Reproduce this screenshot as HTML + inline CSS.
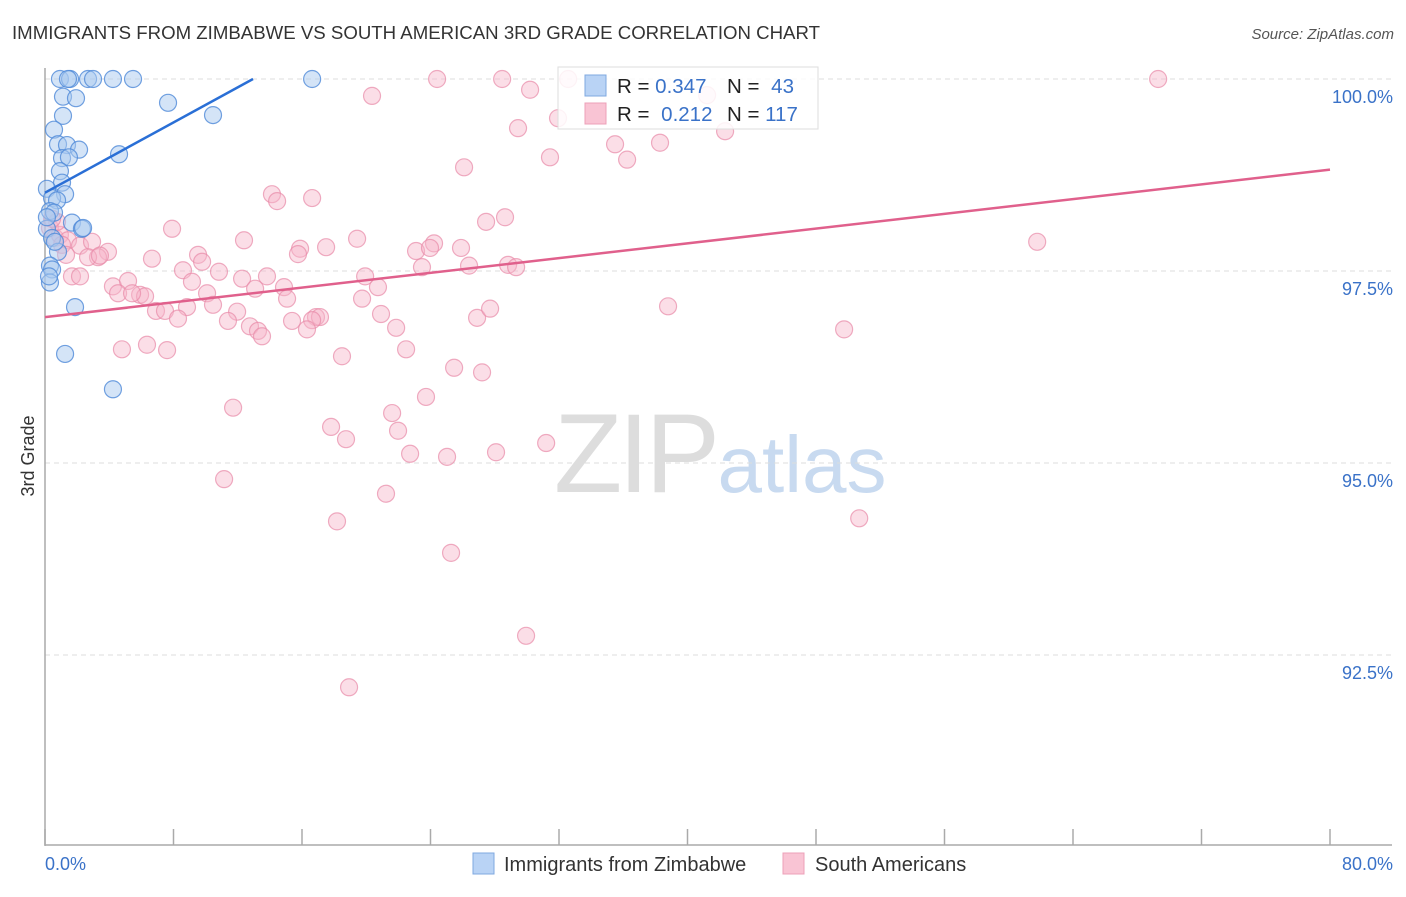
<!DOCTYPE html>
<html><head><meta charset="utf-8"><style>
body{margin:0;background:#fff;font-family:"Liberation Sans",sans-serif;}
svg text{font-family:"Liberation Sans",sans-serif;}
</style></head><body>
<svg id="chart" width="1406" height="892" xmlns="http://www.w3.org/2000/svg">
<text x="12" y="39" font-size="18" fill="#333" textLength="808" lengthAdjust="spacingAndGlyphs">IMMIGRANTS FROM ZIMBABWE VS SOUTH AMERICAN 3RD GRADE CORRELATION CHART</text>
<text x="1394" y="39" font-size="15" fill="#555" text-anchor="end" font-style="italic">Source: ZipAtlas.com</text>
<g>
<text x="635" y="492" font-size="112" fill="#ddd" text-anchor="middle" font-family="Liberation Serif" letter-spacing="-4">ZIP</text>
<text x="802" y="492" font-size="80" fill="#c8daf0" text-anchor="middle">atlas</text>
</g>
<g id="grid"></g>
<g id="axes"></g>
<g id="pinkpts"></g>
<g id="bluepts"></g>
<g id="trends"></g>
<text transform="translate(34,456) rotate(-90)" font-size="18" fill="#333" text-anchor="middle">3rd Grade</text>
<g>
<rect x="558" y="67" width="260" height="62" fill="#fff" fill-opacity="0.85" stroke="#ddd"/>
<rect x="585" y="75" width="21" height="21" fill="#b9d3f5" stroke="#7fa8e0"/>
<rect x="585" y="103" width="21" height="21" fill="#f9c4d4" stroke="#eda0b8"/>
<text x="617" y="93" font-size="20.5" fill="#222">R = <tspan fill="#3a72c8">0.347</tspan></text>
<text x="727" y="93" font-size="20.5" fill="#222">N = <tspan fill="#3a72c8" dx="6">43</tspan></text>
<text x="617" y="121" font-size="20.5" fill="#222">R = <tspan fill="#3a72c8" dx="6">0.212</tspan></text>
<text x="727" y="121" font-size="20.5" fill="#222">N = <tspan fill="#3a72c8">117</tspan></text>
</g>
<g>
<rect x="473" y="853" width="21" height="21" fill="#b9d3f5" stroke="#7fa8e0"/>
<text x="504" y="871" font-size="20" fill="#333">Immigrants from Zimbabwe</text>
<rect x="783" y="853" width="21" height="21" fill="#f9c4d4" stroke="#eda0b8"/>
<text x="815" y="871" font-size="20" fill="#333">South Americans</text>
</g>
</svg>
<script>
const yTicks=[100,97.5,95,92.5];
const yTickLabels=["100.0%","97.5%","95.0%","92.5%"];
const xLabels=["0.0%","80.0%"];
const blueX=[0.93,1.56,1.43,2.68,2.99,4.23,5.48,16.63,1.12,1.93,7.66,10.46,1.12,0.56,0.81,1.37,2.12,4.61,1.06,1.49,0.93,1.06,0.12,1.25,0.44,0.75,0.31,0.56,1.68,2.30,0.12,0.44,0.81,0.31,0.44,0.31,1.87,1.25,4.23,0.25,0.62,0.12,2.37];
const blueY=[100,100,100,100,100,100,100,100,99.77,99.75,99.69,99.53,99.52,99.34,99.15,99.14,99.08,99.02,98.97,98.98,98.80,98.65,98.57,98.50,98.45,98.42,98.28,98.26,98.13,98.05,98.05,97.93,97.75,97.57,97.52,97.35,97.03,96.42,95.96,97.43,97.88,98.20,98.06];
const pinkX=[24.41,28.46,32.57,69.30,30.20,20.36,41.22,31.94,29.45,42.34,35.49,38.29,31.44,36.24,26.09,14.13,14.45,16.63,28.64,27.46,7.91,12.39,19.43,24.22,25.90,15.88,17.50,15.75,23.10,23.97,61.77,6.66,9.53,9.78,8.59,10.83,12.27,13.82,19.93,23.47,26.40,28.83,29.33,9.15,4.23,5.17,4.55,5.92,6.23,5.42,10.09,13.08,14.88,20.73,19.74,15.07,6.91,7.47,8.84,10.46,11.96,8.28,11.39,12.76,13.26,13.51,15.38,16.87,17.12,16.63,16.31,20.92,21.86,26.90,27.71,38.79,49.75,4.79,6.35,7.60,22.48,18.49,25.47,27.21,11.71,21.61,23.72,17.81,21.98,18.74,31.20,22.73,25.03,28.08,11.15,21.23,18.18,50.69,25.28,29.95,18.93,0.31,0.62,0.93,1.43,2.18,2.93,3.92,3.30,1.68,2.18,1.06,0.75,1.31,2.68,3.42,0.44];
const pinkY=[100,100,100,100,99.86,99.78,99.79,99.49,99.36,99.32,99.15,99.17,98.98,98.95,98.85,98.50,98.41,98.45,98.20,98.14,98.05,97.90,97.92,97.86,97.80,97.79,97.81,97.72,97.76,97.80,97.88,97.66,97.71,97.62,97.51,97.49,97.40,97.43,97.43,97.55,97.57,97.58,97.55,97.36,97.30,97.37,97.21,97.19,97.17,97.21,97.21,97.27,97.29,97.29,97.14,97.14,96.98,96.98,97.03,97.06,96.97,96.88,96.85,96.78,96.72,96.65,96.85,96.90,96.90,96.86,96.74,96.94,96.76,96.89,97.01,97.04,96.74,96.48,96.54,96.47,96.48,96.39,96.24,96.18,95.72,95.65,95.86,95.47,95.42,95.31,95.26,95.12,95.08,95.14,94.79,94.60,94.24,94.28,93.83,92.75,92.08,98.06,97.93,97.97,97.90,97.83,97.88,97.75,97.68,97.43,97.43,97.84,98.14,97.71,97.68,97.70,98.18];
const blueTrend=[[0,98.52],[12.95,100]];
const pinkTrend=[[0,96.90],[80,98.82]];

const NS="http://www.w3.org/2000/svg";
const X0=45,X1=1330,YTOP=79;
const sx=v=>X0+(v/80)*(X1-X0);
const sy=v=>YTOP+(100-v)/2.5*192;
function mk(tag,attrs,parent){const e=document.createElementNS(NS,tag);for(const k in attrs)e.setAttribute(k,attrs[k]);document.getElementById(parent).appendChild(e);return e;}

yTicks.forEach((t,i)=>{
  const l=mk('line',{x1:X0,x2:1392,y1:sy(t),y2:sy(t),stroke:'#ddd','stroke-dasharray':'5,4'},'grid');
  
  
  const tx=mk('text',{x:1393,y:sy(t)+24,'font-size':18,fill:'#3a72c8','text-anchor':'end'},'grid');
  tx.textContent=yTickLabels[i];
  
  
});
const ya=mk('line',{x1:X0,x2:X0,y1:68,y2:846,stroke:'#aaa','stroke-width':1.5},'axes');


const xa=mk('line',{x1:X0,x2:1392,y1:845,y2:845,stroke:'#aaa','stroke-width':1.5},'axes');


for(let i=0;i<=10;i++){
  const t=mk('line',{x1:sx(i*8),x2:sx(i*8),y1:829,y2:845,stroke:'#aaa','stroke-width':1.5},'axes');
  
  
}
const xl0=mk('text',{x:45,y:870,'font-size':18,fill:'#3a72c8'},'axes');xl0.textContent=xLabels[0];


const xl1=mk('text',{x:1393,y:870,'font-size':18,fill:'#3a72c8','text-anchor':'end'},'axes');xl1.textContent=xLabels[1];



pinkX.forEach((v,i)=>{
  const c=mk('circle',{cx:sx(v),cy:sy(pinkY[i]),r:8.5,fill:'#f7b6c9','fill-opacity':0.45,stroke:'#e88aa8','stroke-opacity':0.7,'stroke-width':1.2},'pinkpts');
  
  
});
blueX.forEach((v,i)=>{
  const c=mk('circle',{cx:sx(v),cy:sy(blueY[i]),r:8.5,fill:'#a9c9f0','fill-opacity':0.5,stroke:'#4f8ad8','stroke-opacity':0.8,'stroke-width':1.2},'bluepts');
  
  
});
const bt=mk('line',{x1:sx(blueTrend[0][0]),y1:sy(blueTrend[0][1]),x2:sx(blueTrend[1][0]),y2:sy(blueTrend[1][1]),stroke:'#2a6fd6','stroke-width':2.5},'trends');


const pt=mk('line',{x1:sx(pinkTrend[0][0]),y1:sy(pinkTrend[0][1]),x2:sx(pinkTrend[1][0]),y2:sy(pinkTrend[1][1]),stroke:'#e0608c','stroke-width':2.5},'trends');


</script>
</body></html>
